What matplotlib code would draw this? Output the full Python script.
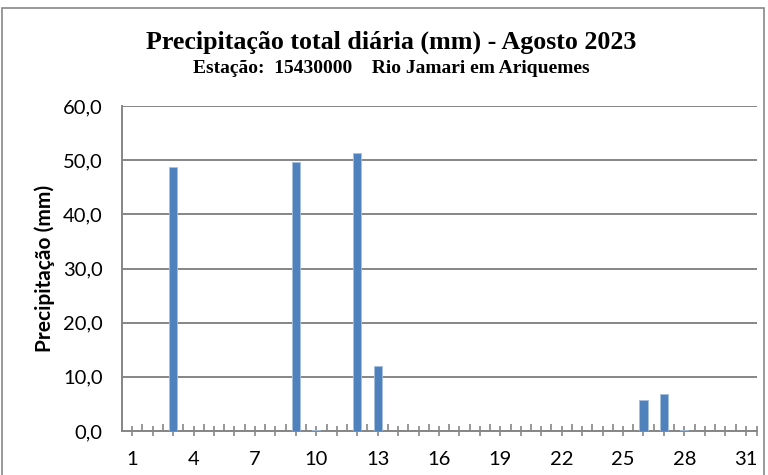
import matplotlib.pyplot as plt
from matplotlib.patches import Rectangle
from matplotlib.ticker import FixedLocator, FixedFormatter

# daily rainfall, August 2023 (mm)
days = list(range(1, 32))
rain = [0, 0, 48.8, 0, 0, 0, 0, 0, 49.6, 0.2,
        0, 51.4, 12.0, 0, 0, 0, 0, 0, 0, 0,
        0, 0, 0, 0, 0, 5.8, 6.8, 0.2, 0, 0, 0]
ytick_vals = [0, 10, 20, 30, 40, 50, 60]
ytick_labels = ['0,0', '10,0', '20,0', '30,0', '40,0', '50,0', '60,0']
xlabel_days = [1, 4, 7, 10, 13, 16, 19, 22, 25, 28, 31]

title = 'Precipitação total diária (mm) - Agosto 2023'
subtitle = 'Estação:  15430000    Rio Jamari em Ariquemes'

fig = plt.figure(figsize=(7.68, 4.75), dpi=100)
ax = fig.add_axes([122/768, 44/475, 635/768, 325/475])

ax.bar(days, rain, width=0.4, color='#4F81BD', edgecolor='#A7C0DE', linewidth=0.6, zorder=3)

gray = '#868686'
ax.set_xlim(0.5, 31.55)
ax.set_ylim(0, 60)
ax.set_yticks(ytick_vals)
ax.set_yticklabels(ytick_labels)
ax.yaxis.grid(True, color=gray, linewidth=1.4, zorder=0)
ax.tick_params(axis='y', length=0, pad=14, labelsize=14.5)

major = days + [31.55]
ax.xaxis.set_major_locator(FixedLocator(major))
ax.xaxis.set_major_formatter(FixedFormatter([str(d) if d in xlabel_days else '' for d in days] + ['']))
ax.xaxis.set_minor_locator(FixedLocator([d + 0.5 for d in range(1, 31)]))
ax.tick_params(axis='x', which='major', direction='inout', length=7, width=1.2, color=gray,
               labelsize=14.5, pad=11)
ax.tick_params(axis='x', which='minor', direction='in', length=5, width=1.2, color=gray)

for s in ['top', 'right']:
    ax.spines[s].set_visible(False)
for s in ['left', 'bottom']:
    ax.spines[s].set_color(gray)
    ax.spines[s].set_linewidth(1.4)

for lab in ax.get_xticklabels() + ax.get_yticklabels():
    lab.set_family('Lato')

ax.set_ylabel('Precipitação (mm)', fontsize=15, fontweight='bold', family='Lato')
ax.yaxis.set_label_coords(-0.106, 0.5)

fig.text(0.51, 0.911, title, ha='center', va='center', fontsize=18.7, fontweight='bold',
         family='Liberation Serif')
fig.text(0.51, 0.855, subtitle, ha='center', va='center', fontsize=14, fontweight='bold',
         family='Liberation Serif')

# chart area border
fig.patches.append(Rectangle((2/768, -0.05), 762/768, 1.05 - 8/475, transform=fig.transFigure,
                             fill=False, edgecolor='#888888', linewidth=1.2))

fig.savefig('out.png', dpi=100)
